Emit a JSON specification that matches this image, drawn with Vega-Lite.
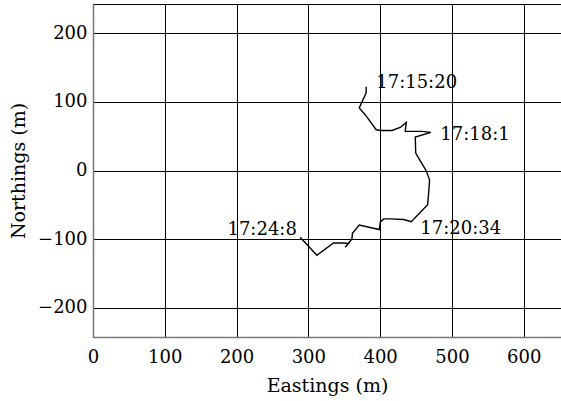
{
  "$schema": "https://vega.github.io/schema/vega-lite/v6.json",
  "autosize": {"type": "none"},
  "padding": {"left": 93, "top": 4, "right": 0, "bottom": 64},
  "width": 468,
  "height": 333,
  "background": "white",
  "config": {
    "font": "DejaVu Serif",
    "view": {"stroke": "black", "strokeWidth": 1},
    "axis": {
      "grid": true,
      "gridColor": "black",
      "gridOpacity": 1,
      "gridWidth": 1,
      "ticks": false,
      "labelFlush": false,
      "domainColor": "#777",
      "domainWidth": 1.5,
      "labelFont": "DejaVu Serif",
      "labelFontSize": 18,
      "labelColor": "black",
      "titleFont": "DejaVu Serif",
      "titleFontSize": 19,
      "titleFontWeight": "normal",
      "titleColor": "black"
    }
  },
  "datasets": {
    "track": [
      {"i": 1, "e": 380.6, "n": 121.9},
      {"i": 2, "e": 380.6, "n": 113},
      {"i": 3, "e": 370.9, "n": 91.2},
      {"i": 4, "e": 379.2, "n": 81.3},
      {"i": 5, "e": 394.6, "n": 59.3},
      {"i": 6, "e": 400, "n": 58.3},
      {"i": 7, "e": 416.4, "n": 58.3},
      {"i": 8, "e": 428, "n": 62.7},
      {"i": 9, "e": 436.4, "n": 70},
      {"i": 10, "e": 435, "n": 57},
      {"i": 11, "e": 458.3, "n": 57},
      {"i": 12, "e": 470.8, "n": 55.6},
      {"i": 13, "e": 449, "n": 48.7},
      {"i": 14, "e": 449.6, "n": 25.5},
      {"i": 15, "e": 456, "n": 14},
      {"i": 16, "e": 464, "n": 0},
      {"i": 17, "e": 468.9, "n": -13.5},
      {"i": 18, "e": 468, "n": -28},
      {"i": 19, "e": 466.2, "n": -49.7},
      {"i": 20, "e": 443.4, "n": -74.5},
      {"i": 21, "e": 432.7, "n": -71.4},
      {"i": 22, "e": 414, "n": -70.5},
      {"i": 23, "e": 404.8, "n": -70.5},
      {"i": 24, "e": 400.2, "n": -75.5},
      {"i": 25, "e": 398.8, "n": -86},
      {"i": 26, "e": 370.9, "n": -79.3},
      {"i": 27, "e": 361.5, "n": -91.5},
      {"i": 28, "e": 360.7, "n": -99.6},
      {"i": 29, "e": 357, "n": -104.5},
      {"i": 30, "e": 351.4, "n": -111.7},
      {"i": 31, "e": 356, "n": -106.5},
      {"i": 32, "e": 349, "n": -105.5},
      {"i": 33, "e": 335, "n": -105.5},
      {"i": 34, "e": 311.9, "n": -123.5},
      {"i": 35, "e": 288.6, "n": -97.2}
    ],
    "leftLabels": [
      {"e": 394.6, "n": 127, "t": "17:15:20"},
      {"e": 483.8, "n": 52, "t": "17:18:1"},
      {"e": 456, "n": -85.5, "t": "17:20:34"}
    ],
    "rightLabels": [
      {"e": 284, "n": -86, "t": "17:24:8"}
    ]
  },
  "layer": [
    {
      "data": {"name": "track"},
      "mark": {"type": "line", "color": "black", "strokeWidth": 1.4, "clip": true},
      "encoding": {
        "x": {
          "field": "e", "type": "quantitative",
          "scale": {"domain": [0, 652], "nice": false, "zero": false},
          "axis": {"values": [0, 100, 200, 300, 400, 500, 600], "title": "Eastings (m)", "labelPadding": 11, "titlePadding": 10}
        },
        "y": {
          "field": "n", "type": "quantitative",
          "scale": {"domain": [-242.5, 242.5], "nice": false, "zero": false},
          "axis": {"values": [-200, -100, 0, 100, 200], "title": "Northings (m)", "labelPadding": 6, "titlePadding": 9}
        },
        "order": {"field": "i", "type": "quantitative"}
      }
    },
    {
      "data": {"name": "leftLabels"},
      "mark": {"type": "text", "align": "left", "baseline": "middle", "fontSize": 18, "font": "DejaVu Serif", "color": "black"},
      "encoding": {
        "x": {"field": "e", "type": "quantitative"},
        "y": {"field": "n", "type": "quantitative"},
        "text": {"field": "t"}
      }
    },
    {
      "data": {"name": "rightLabels"},
      "mark": {"type": "text", "align": "right", "baseline": "middle", "fontSize": 18, "font": "DejaVu Serif", "color": "black"},
      "encoding": {
        "x": {"field": "e", "type": "quantitative"},
        "y": {"field": "n", "type": "quantitative"},
        "text": {"field": "t"}
      }
    }
  ]
}
